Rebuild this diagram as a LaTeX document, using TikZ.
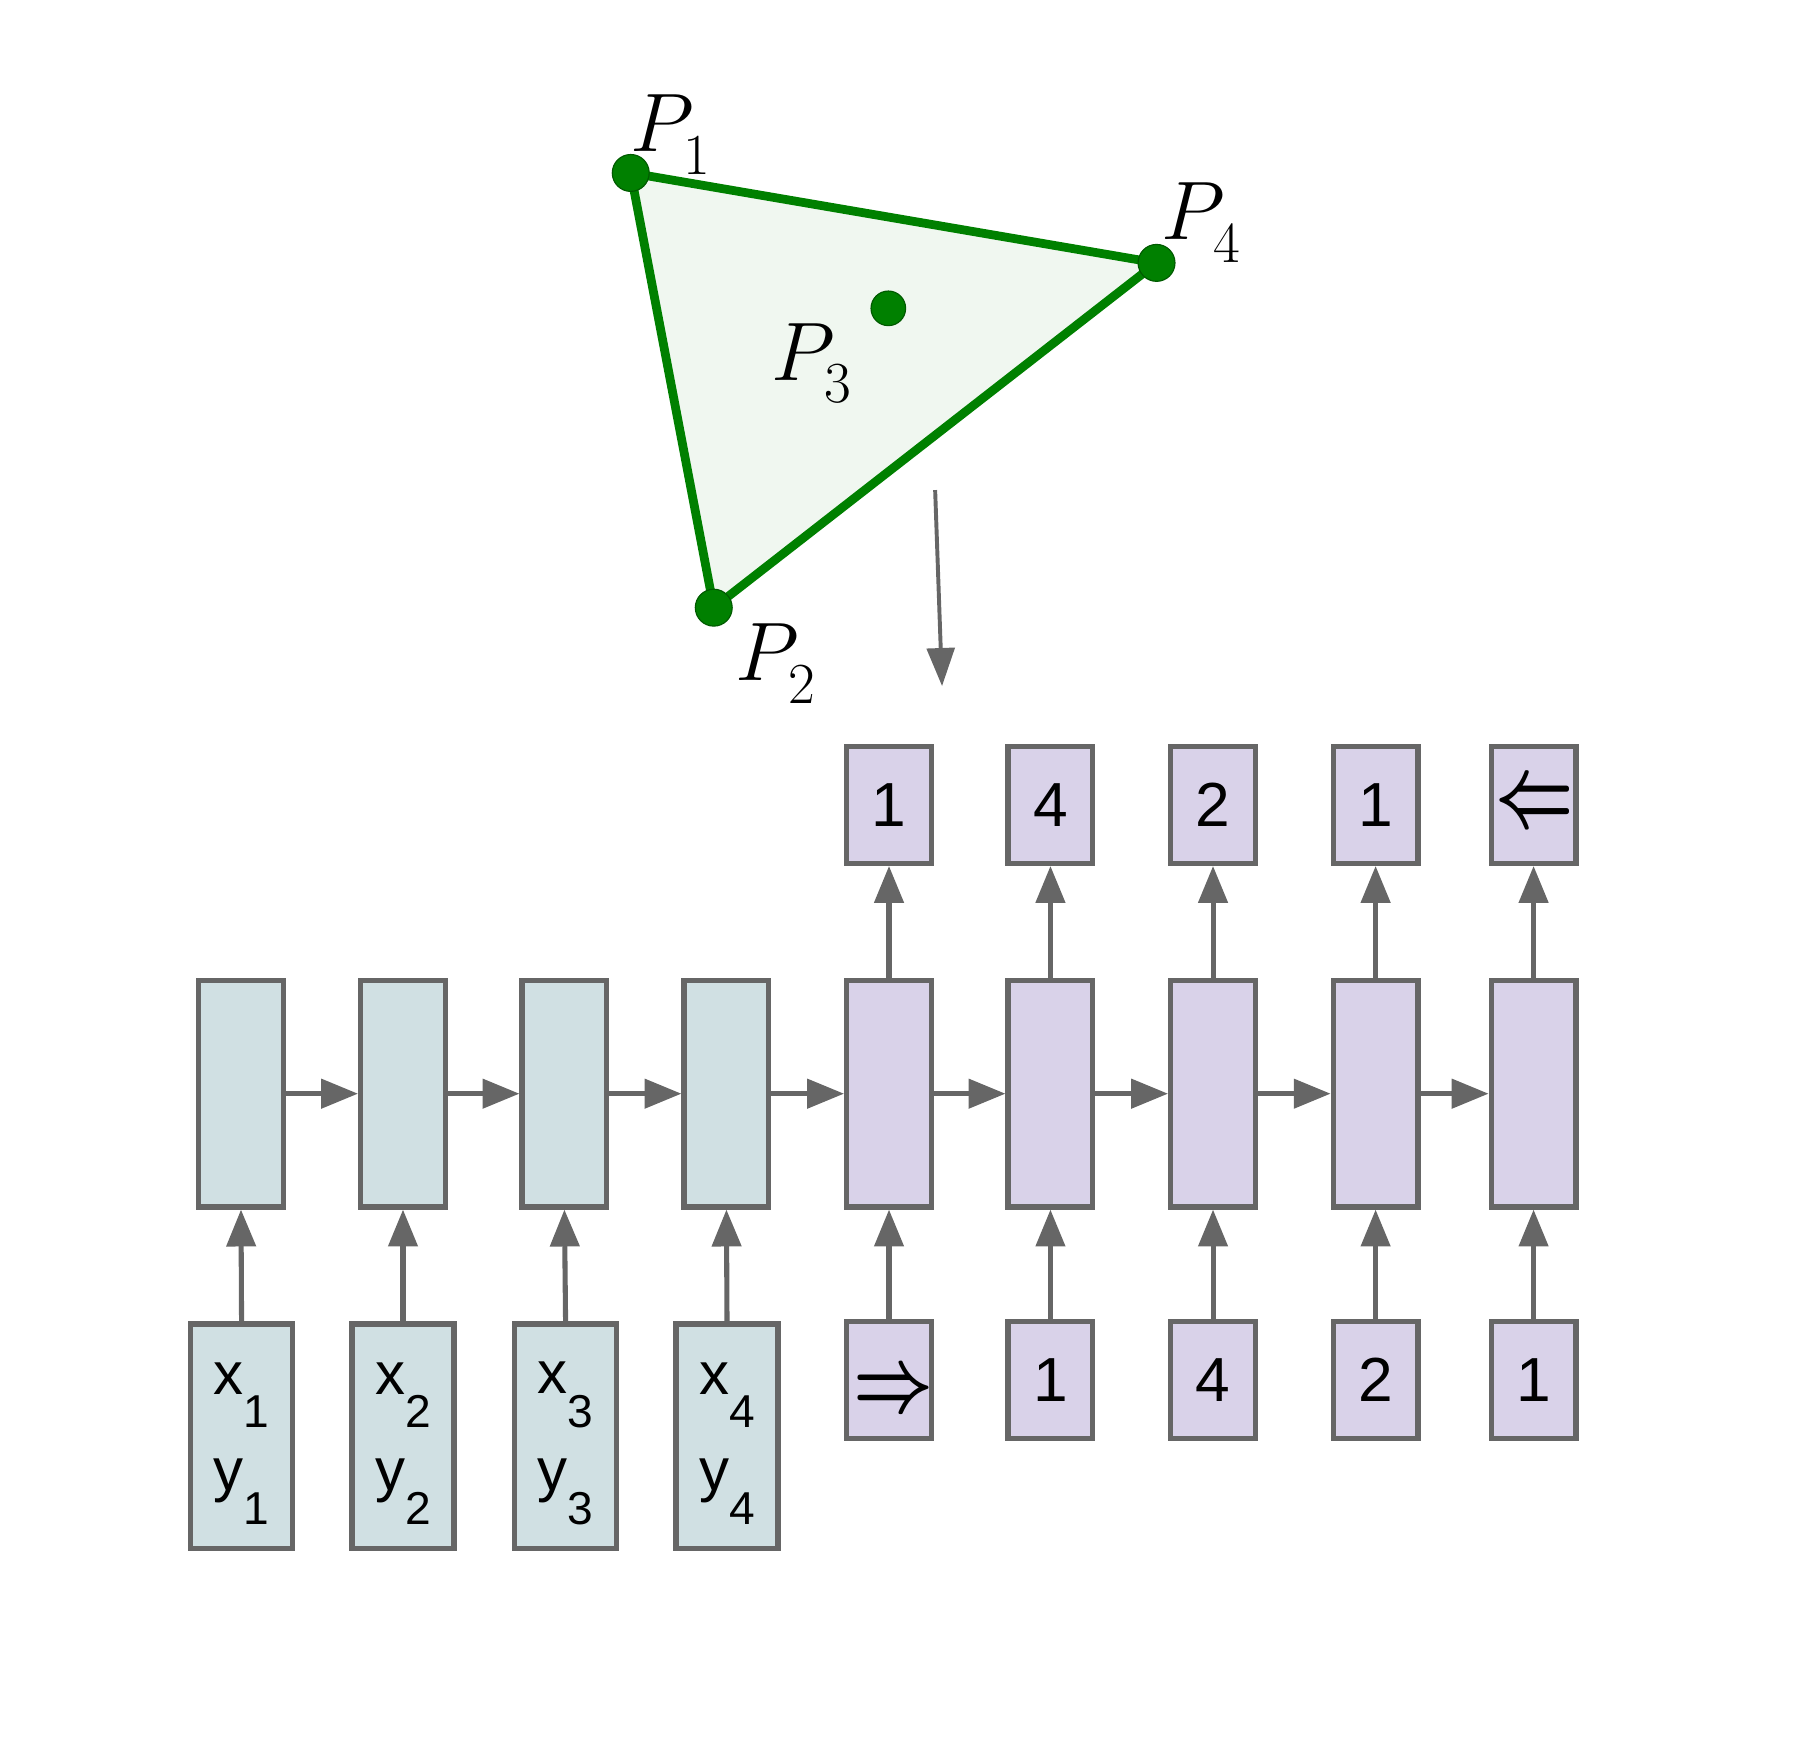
\RequirePackage{fix-cm}
\documentclass[tikz,border=0pt]{standalone}
\usepackage{graphicx}
\usepackage{fontspec}
\newfontfamily\boxfont{Liberation Sans}
\usetikzlibrary{arrows.meta}
\definecolor{edgegray}{HTML}{666666}
\definecolor{encfill}{HTML}{D0E0E3}
\definecolor{decfill}{HTML}{D9D2E9}
\definecolor{trigreen}{HTML}{008000}
\definecolor{trifill}{HTML}{F0F7F0}
\newcommand\lowsub[1]{\raisebox{-29pt}{\fontsize{40}{40}\selectfont #1}}
\newcommand\psub[1]{\lower9pt\hbox{$\scriptstyle #1$}}
\begin{document}
\begin{tikzpicture}[x=1pt,y=-1pt,
  cell/.style={draw=edgegray, line width=4.6pt, minimum width=73.4pt, inner sep=0pt, outer sep=2.3pt,
    font=\boxfont\fontsize{54}{60}\selectfont},
  enchid/.style={cell, fill=encfill, minimum height=196.4pt},
  dechid/.style={cell, fill=decfill, minimum height=196.4pt},
  encin/.style={cell, fill=encfill, minimum width=88.4pt, minimum height=194.4pt, align=center,
    font=\boxfont\fontsize{52}{84}\selectfont},
  decsmall/.style={cell, fill=decfill, minimum height=101.4pt},
  link/.style={draw=edgegray, line width=4.4pt, -{Triangle[length=32pt,width=25pt]}},
  dot/.style={circle, fill=trigreen, draw=trigreen!70!black, line width=1pt, inner sep=0pt},
  plabel/.style={inner sep=0pt, anchor=base west, font=\fontsize{72}{72}\selectfont}
  ]
\useasboundingbox (0,0) rectangle (1568,1506);

% triangle
\coordinate (p1) at (547,150);
\coordinate (p4) at (1003,228);
\coordinate (p2) at (619,527);
\fill[trifill] (p1) -- (p4) -- (p2) -- cycle;
\draw[trigreen, line width=7.6pt, line join=round] (p1) -- (p4) -- (p2) -- cycle;
\node[dot, minimum size=32pt] (d1) at (p1) {};
\node[dot, minimum size=32pt] (d4) at (p4) {};
\node[dot, minimum size=32pt] (d2) at (p2) {};
\node[dot, minimum size=30pt] (d3) at (770.4,267.4) {};
\node[plabel] (l1) at (547,131.5) {$P_{\psub{1}}$};
\node[plabel] (l4) at (1007,208) {$P_{\psub{4}}$};
\node[plabel] (l3) at (669,329.6) {$P_{\psub{3}}$};
\node[plabel] (l2) at (638,590) {$P_{\psub{2}}$};

% down arrow
\coordinate (a0) at (811,425);
\coordinate (a1) at (817,595);
\draw[draw=edgegray, line width=3.4pt, -{Triangle[length=33pt,width=24pt]}] (a0) -- (a1);

% encoder hidden
\node[enchid] (h1) at (209,948.5) {};
\node[enchid] (h2) at (349.5,948.5) {};
\node[enchid] (h3) at (489.5,948.5) {};
\node[enchid] (h4) at (630,948.5) {};
% decoder hidden
\node[dechid] (h5) at (771,948.5) {};
\node[dechid] (h6) at (911,948.5) {};
\node[dechid] (h7) at (1052,948.5) {};
\node[dechid] (h8) at (1193,948.5) {};
\node[dechid] (h9) at (1330,948.5) {};

% encoder inputs
\node[encin] (i1) at (209.5,1245.5) {\rule{0pt}{40pt}x\lowsub{1}\\y\lowsub{1}};
\node[encin] (i2) at (349.5,1245.5) {\rule{0pt}{40pt}x\lowsub{2}\\y\lowsub{2}};
\node[encin] (i3) at (490.5,1245.5) {\rule{0pt}{40pt}x\lowsub{3}\\y\lowsub{3}};
\node[encin] (i4) at (630.5,1245.5) {\rule{0pt}{40pt}x\lowsub{4}\\y\lowsub{4}};

% decoder inputs
\node[decsmall] (i5) at (771,1197) {\makebox[0pt]{\hspace*{7pt}\smash{\raisebox{-26pt}{\scalebox{1.04}[1.35]{\fontsize{58}{58}\selectfont\boldmath$\Rightarrow$}}}}};
\node[decsmall] (i6) at (911,1197) {1};
\node[decsmall] (i7) at (1052,1197) {4};
\node[decsmall] (i8) at (1193,1197) {2};
\node[decsmall] (i9) at (1330,1197) {1};

% decoder outputs
\node[decsmall] (o5) at (771,698) {1};
\node[decsmall] (o6) at (911,698) {4};
\node[decsmall] (o7) at (1052,698) {2};
\node[decsmall] (o8) at (1193,698) {1};
\node[decsmall] (o9) at (1330,698) {\makebox[0pt]{\hspace*{2pt}\smash{\raisebox{-18pt}{\scalebox{1.02}[1.5]{\fontsize{58}{58}\selectfont\boldmath$\Leftarrow$}}}}};

% horizontal links
\foreach \a/\b in {h1/h2,h2/h3,h3/h4,h4/h5,h5/h6,h6/h7,h7/h8,h8/h9}
  \draw[link] (\a.east) -- (\b.west);
% input links
\foreach \n in {1,...,9}
  \draw[link] (i\n.north) -- (h\n.south);
% output links
\foreach \n in {5,...,9}
  \draw[link] (h\n.north) -- (o\n.south);
\end{tikzpicture}
\end{document}
